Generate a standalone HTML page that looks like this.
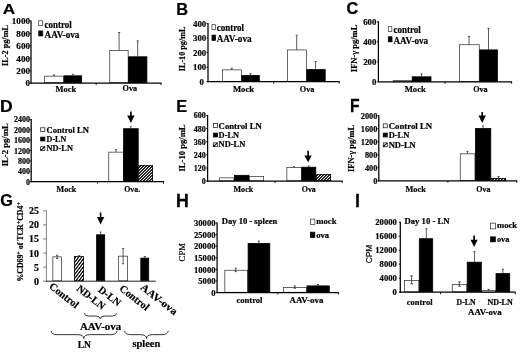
<!DOCTYPE html>
<html>
<head>
<meta charset="utf-8">
<title>Figure</title>
<style>
html,body{margin:0;padding:0;background:#fff;}
body{width:520px;height:352px;overflow:hidden;font-family:"Liberation Serif",serif;}
svg{display:block;}
text{white-space:pre;stroke:#000;stroke-width:0.2px;}
</style>
</head>
<body>
<svg width="520" height="352" viewBox="0 0 520 352">
<rect x="0" y="0" width="520" height="352" fill="#fff"/>
<defs>
<filter id="soft" x="0" y="0" width="520" height="352" filterUnits="userSpaceOnUse"><feGaussianBlur stdDeviation="0.3"/></filter>
<pattern id="h3_0" width="3" height="3" patternUnits="userSpaceOnUse"><rect width="3" height="3" fill="#000"/><rect x="0" y="0" width="1" height="1" fill="#ffffff"/><rect x="1" y="0" width="1" height="1" fill="#1c1c1c"/><rect x="2" y="0" width="1" height="1" fill="#333333"/><rect x="0" y="1" width="1" height="1" fill="#1c1c1c"/><rect x="1" y="1" width="1" height="1" fill="#333333"/><rect x="2" y="1" width="1" height="1" fill="#ffffff"/><rect x="0" y="2" width="1" height="1" fill="#333333"/><rect x="1" y="2" width="1" height="1" fill="#ffffff"/><rect x="2" y="2" width="1" height="1" fill="#1c1c1c"/></pattern>
<pattern id="h3_1" width="3" height="3" patternUnits="userSpaceOnUse"><rect width="3" height="3" fill="#000"/><rect x="0" y="0" width="1" height="1" fill="#333333"/><rect x="1" y="0" width="1" height="1" fill="#ffffff"/><rect x="2" y="0" width="1" height="1" fill="#1c1c1c"/><rect x="0" y="1" width="1" height="1" fill="#ffffff"/><rect x="1" y="1" width="1" height="1" fill="#1c1c1c"/><rect x="2" y="1" width="1" height="1" fill="#333333"/><rect x="0" y="2" width="1" height="1" fill="#1c1c1c"/><rect x="1" y="2" width="1" height="1" fill="#333333"/><rect x="2" y="2" width="1" height="1" fill="#ffffff"/></pattern>
<pattern id="h3_2" width="3" height="3" patternUnits="userSpaceOnUse"><rect width="3" height="3" fill="#000"/><rect x="0" y="0" width="1" height="1" fill="#1c1c1c"/><rect x="1" y="0" width="1" height="1" fill="#333333"/><rect x="2" y="0" width="1" height="1" fill="#ffffff"/><rect x="0" y="1" width="1" height="1" fill="#333333"/><rect x="1" y="1" width="1" height="1" fill="#ffffff"/><rect x="2" y="1" width="1" height="1" fill="#1c1c1c"/><rect x="0" y="2" width="1" height="1" fill="#ffffff"/><rect x="1" y="2" width="1" height="1" fill="#1c1c1c"/><rect x="2" y="2" width="1" height="1" fill="#333333"/></pattern>
<pattern id="h4_0" width="3" height="4" patternUnits="userSpaceOnUse"><rect width="3" height="4" fill="#000"/><rect x="0" y="0" width="1" height="1" fill="#ffffff"/><rect x="1" y="0" width="1" height="1" fill="#0d0d0d"/><rect x="2" y="0" width="1" height="1" fill="#525252"/><rect x="0" y="1" width="1" height="1" fill="#525252"/><rect x="1" y="1" width="1" height="1" fill="#0d0d0d"/><rect x="2" y="1" width="1" height="1" fill="#ffffff"/><rect x="1" y="2" width="1" height="1" fill="#f1f1f1"/><rect x="2" y="2" width="1" height="1" fill="#acacac"/><rect x="0" y="3" width="1" height="1" fill="#acacac"/><rect x="1" y="3" width="1" height="1" fill="#f1f1f1"/></pattern>
<pattern id="h4_1" width="3" height="4" patternUnits="userSpaceOnUse"><rect width="3" height="4" fill="#000"/><rect x="0" y="0" width="1" height="1" fill="#acacac"/><rect x="1" y="0" width="1" height="1" fill="#f1f1f1"/><rect x="0" y="1" width="1" height="1" fill="#ffffff"/><rect x="1" y="1" width="1" height="1" fill="#0d0d0d"/><rect x="2" y="1" width="1" height="1" fill="#525252"/><rect x="0" y="2" width="1" height="1" fill="#525252"/><rect x="1" y="2" width="1" height="1" fill="#0d0d0d"/><rect x="2" y="2" width="1" height="1" fill="#ffffff"/><rect x="1" y="3" width="1" height="1" fill="#f1f1f1"/><rect x="2" y="3" width="1" height="1" fill="#acacac"/></pattern>
<pattern id="h4_2" width="3" height="4" patternUnits="userSpaceOnUse"><rect width="3" height="4" fill="#000"/><rect x="1" y="0" width="1" height="1" fill="#f1f1f1"/><rect x="2" y="0" width="1" height="1" fill="#acacac"/><rect x="0" y="1" width="1" height="1" fill="#acacac"/><rect x="1" y="1" width="1" height="1" fill="#f1f1f1"/><rect x="0" y="2" width="1" height="1" fill="#ffffff"/><rect x="1" y="2" width="1" height="1" fill="#0d0d0d"/><rect x="2" y="2" width="1" height="1" fill="#525252"/><rect x="0" y="3" width="1" height="1" fill="#525252"/><rect x="1" y="3" width="1" height="1" fill="#0d0d0d"/><rect x="2" y="3" width="1" height="1" fill="#ffffff"/></pattern>
<pattern id="h4_3" width="3" height="4" patternUnits="userSpaceOnUse"><rect width="3" height="4" fill="#000"/><rect x="0" y="0" width="1" height="1" fill="#525252"/><rect x="1" y="0" width="1" height="1" fill="#0d0d0d"/><rect x="2" y="0" width="1" height="1" fill="#ffffff"/><rect x="1" y="1" width="1" height="1" fill="#f1f1f1"/><rect x="2" y="1" width="1" height="1" fill="#acacac"/><rect x="0" y="2" width="1" height="1" fill="#acacac"/><rect x="1" y="2" width="1" height="1" fill="#f1f1f1"/><rect x="0" y="3" width="1" height="1" fill="#ffffff"/><rect x="1" y="3" width="1" height="1" fill="#0d0d0d"/><rect x="2" y="3" width="1" height="1" fill="#525252"/></pattern>
</defs>
<g filter="url(#soft)">
<!-- panelA -->
<text transform="translate(2.87 13.6) scale(1.7164 1.3913)" x="0" y="0" font-size="10" font-family='"Liberation Sans", sans-serif' font-weight="bold" fill="#000" style="stroke-width:0.15px">A</text>
<rect x="44.65" y="76.15" width="19" height="6.5" fill="#fff" stroke="#2a2a2a" stroke-width="0.7"/>
<rect x="64.1" y="75.8" width="17.5" height="6.8" fill="#000" stroke="#000" stroke-width="0.8"/>
<rect x="109.75" y="50.55" width="18.4" height="32.1" fill="#fff" stroke="#2a2a2a" stroke-width="0.7"/>
<rect x="128.6" y="56.8" width="18.3" height="25.8" fill="#000" stroke="#000" stroke-width="0.8"/>
<line x1="54" y1="74.9" x2="54" y2="76" stroke="#333" stroke-width="0.8"/>
<line x1="52.9" y1="74.9" x2="55.1" y2="74.9" stroke="#333" stroke-width="0.8"/>
<line x1="73" y1="74.3" x2="73" y2="75.6" stroke="#333" stroke-width="0.8"/>
<line x1="71.9" y1="74.3" x2="74.1" y2="74.3" stroke="#333" stroke-width="0.8"/>
<line x1="119.1" y1="32.5" x2="119.1" y2="50.5" stroke="#333" stroke-width="0.8"/>
<line x1="118" y1="32.5" x2="120.2" y2="32.5" stroke="#333" stroke-width="0.8"/>
<line x1="137.7" y1="40.9" x2="137.7" y2="57" stroke="#333" stroke-width="0.8"/>
<line x1="136.6" y1="40.9" x2="138.8" y2="40.9" stroke="#333" stroke-width="0.8"/>
<line x1="31" y1="20.6" x2="31" y2="83.5" stroke="#000" stroke-width="1.25"/>
<line x1="30.5" y1="83" x2="161.5" y2="83" stroke="#000" stroke-width="1.25"/>
<line x1="29.5" y1="21" x2="31" y2="21" stroke="#000" stroke-width="0.9"/>
<line x1="29.5" y1="33.4" x2="31" y2="33.4" stroke="#000" stroke-width="0.9"/>
<line x1="29.5" y1="45.8" x2="31" y2="45.8" stroke="#000" stroke-width="0.9"/>
<line x1="29.5" y1="58.2" x2="31" y2="58.2" stroke="#000" stroke-width="0.9"/>
<line x1="29.5" y1="70.6" x2="31" y2="70.6" stroke="#000" stroke-width="0.9"/>
<line x1="29.5" y1="83" x2="31" y2="83" stroke="#000" stroke-width="0.9"/>
<line x1="96.2" y1="83" x2="96.2" y2="85" stroke="#000" stroke-width="0.9"/>
<line x1="161" y1="83" x2="161" y2="85" stroke="#000" stroke-width="0.9"/>
<text x="30" y="24.35" font-size="9.1" text-anchor="end" font-family='"Liberation Serif", serif' font-weight="bold" fill="#000">1000</text>
<text x="30" y="36.75" font-size="9.1" text-anchor="end" font-family='"Liberation Serif", serif' font-weight="bold" fill="#000">800</text>
<text x="30" y="49.15" font-size="9.1" text-anchor="end" font-family='"Liberation Serif", serif' font-weight="bold" fill="#000">600</text>
<text x="30" y="61.55" font-size="9.1" text-anchor="end" font-family='"Liberation Serif", serif' font-weight="bold" fill="#000">400</text>
<text x="30" y="73.95" font-size="9.1" text-anchor="end" font-family='"Liberation Serif", serif' font-weight="bold" fill="#000">200</text>
<text x="30" y="86.35" font-size="9.1" text-anchor="end" font-family='"Liberation Serif", serif' font-weight="bold" fill="#000">0</text>
<text x="7.7" y="45.5" font-size="8.2" text-anchor="middle" font-family='"Liberation Serif", serif' font-weight="bold" transform="rotate(-90 7.7 45.5)" textLength="41" lengthAdjust="spacingAndGlyphs">IL-2 pg/mL</text>
<rect x="38.75" y="20.75" width="3.8" height="4.9" fill="#fff" stroke="#2a2a2a" stroke-width="0.7"/>
<rect x="38.75" y="30.95" width="4" height="5" fill="#000" stroke="#000" stroke-width="0.7"/>
<text x="44.6" y="27.5" font-size="9.4" text-anchor="start" font-family='"Liberation Serif", serif' font-weight="bold" fill="#000" textLength="27.1" lengthAdjust="spacingAndGlyphs">control</text>
<text x="44.6" y="38.2" font-size="9.4" text-anchor="start" font-family='"Liberation Serif", serif' font-weight="bold" fill="#000" textLength="34.8" lengthAdjust="spacingAndGlyphs">AAV-ova</text>
<text x="55.5" y="91.7" font-size="9" text-anchor="start" font-family='"Liberation Serif", serif' font-weight="bold" fill="#000" textLength="20.8" lengthAdjust="spacingAndGlyphs">Mock</text>
<text x="122.5" y="91.4" font-size="9" text-anchor="start" font-family='"Liberation Serif", serif' font-weight="bold" fill="#000" textLength="14.6" lengthAdjust="spacingAndGlyphs">Ova</text>
<!-- panelB -->
<text transform="translate(176.33 14.5) scale(1.6393 1.6087)" x="0" y="0" font-size="10" font-family='"Liberation Sans", sans-serif' font-weight="bold" fill="#000" style="stroke-width:0.15px">B</text>
<rect x="222.35" y="69.85" width="19" height="11.48" fill="#fff" stroke="#2a2a2a" stroke-width="0.7"/>
<rect x="241.8" y="75.4" width="17.5" height="5.88" fill="#000" stroke="#000" stroke-width="0.8"/>
<rect x="287.35" y="49.95" width="19" height="31.38" fill="#fff" stroke="#2a2a2a" stroke-width="0.7"/>
<rect x="306.8" y="69.6" width="18.4" height="11.68" fill="#000" stroke="#000" stroke-width="0.8"/>
<line x1="231.7" y1="68.2" x2="231.7" y2="70" stroke="#333" stroke-width="0.8"/>
<line x1="230.6" y1="68.2" x2="232.8" y2="68.2" stroke="#333" stroke-width="0.8"/>
<line x1="250.5" y1="73.7" x2="250.5" y2="75.3" stroke="#333" stroke-width="0.8"/>
<line x1="249.4" y1="73.7" x2="251.6" y2="73.7" stroke="#333" stroke-width="0.8"/>
<line x1="296.7" y1="35.3" x2="296.7" y2="50" stroke="#333" stroke-width="0.8"/>
<line x1="295.6" y1="35.3" x2="297.8" y2="35.3" stroke="#333" stroke-width="0.8"/>
<line x1="315.6" y1="61.4" x2="315.6" y2="69.5" stroke="#333" stroke-width="0.8"/>
<line x1="314.5" y1="61.4" x2="316.7" y2="61.4" stroke="#333" stroke-width="0.8"/>
<line x1="208" y1="23" x2="208" y2="82.18" stroke="#000" stroke-width="1.25"/>
<line x1="207.5" y1="81.68" x2="339.7" y2="81.68" stroke="#000" stroke-width="1.25"/>
<line x1="206.5" y1="23.4" x2="208" y2="23.4" stroke="#000" stroke-width="0.9"/>
<line x1="206.5" y1="37.97" x2="208" y2="37.97" stroke="#000" stroke-width="0.9"/>
<line x1="206.5" y1="52.54" x2="208" y2="52.54" stroke="#000" stroke-width="0.9"/>
<line x1="206.5" y1="67.11" x2="208" y2="67.11" stroke="#000" stroke-width="0.9"/>
<line x1="206.5" y1="81.68" x2="208" y2="81.68" stroke="#000" stroke-width="0.9"/>
<line x1="273.7" y1="81.68" x2="273.7" y2="83.68" stroke="#000" stroke-width="0.9"/>
<line x1="339.2" y1="81.68" x2="339.2" y2="83.68" stroke="#000" stroke-width="0.9"/>
<text x="206.2" y="26.65" font-size="8.8" text-anchor="end" font-family='"Liberation Serif", serif' font-weight="bold" fill="#000">400</text>
<text x="206.2" y="41.22" font-size="8.8" text-anchor="end" font-family='"Liberation Serif", serif' font-weight="bold" fill="#000">300</text>
<text x="206.2" y="55.79" font-size="8.8" text-anchor="end" font-family='"Liberation Serif", serif' font-weight="bold" fill="#000">200</text>
<text x="206.2" y="70.36" font-size="8.8" text-anchor="end" font-family='"Liberation Serif", serif' font-weight="bold" fill="#000">100</text>
<text x="203.8" y="84.93" font-size="8.8" text-anchor="end" font-family='"Liberation Serif", serif' font-weight="bold" fill="#000">0</text>
<text x="184.7" y="48.9" font-size="8.2" text-anchor="middle" font-family='"Liberation Serif", serif' font-weight="bold" transform="rotate(-90 184.7 48.9)" textLength="44.6" lengthAdjust="spacingAndGlyphs">IL-10 pg/mL</text>
<rect x="211.95" y="24.65" width="3.5" height="4.7" fill="#fff" stroke="#2a2a2a" stroke-width="0.7"/>
<rect x="211.95" y="35.05" width="3.6" height="5.4" fill="#000" stroke="#000" stroke-width="0.7"/>
<text x="216.7" y="30.8" font-size="9.4" text-anchor="start" font-family='"Liberation Serif", serif' font-weight="bold" fill="#000" textLength="27.3" lengthAdjust="spacingAndGlyphs">control</text>
<text x="216.7" y="42.2" font-size="9.4" text-anchor="start" font-family='"Liberation Serif", serif' font-weight="bold" fill="#000" textLength="34.9" lengthAdjust="spacingAndGlyphs">AAV-ova</text>
<text x="232.9" y="92" font-size="9" text-anchor="start" font-family='"Liberation Serif", serif' font-weight="bold" fill="#000" textLength="21.2" lengthAdjust="spacingAndGlyphs">Mock</text>
<text x="299.8" y="91.8" font-size="9" text-anchor="start" font-family='"Liberation Serif", serif' font-weight="bold" fill="#000" textLength="14.6" lengthAdjust="spacingAndGlyphs">Ova</text>
<!-- panelC -->
<text transform="translate(346.55 14.14) scale(1.6336 1.6479)" x="0" y="0" font-size="10" font-family='"Liberation Sans", sans-serif' font-weight="bold" fill="#000" style="stroke-width:0.15px">C</text>
<rect x="393.15" y="80.65" width="18.5" height="1.2" fill="#fff" stroke="#2a2a2a" stroke-width="0.7"/>
<rect x="412.2" y="76.8" width="18.8" height="4.6" fill="#000" stroke="#000" stroke-width="0.8"/>
<rect x="459.55" y="44.75" width="19.7" height="36.7" fill="#fff" stroke="#2a2a2a" stroke-width="0.7"/>
<rect x="479.7" y="49.9" width="17.7" height="31.5" fill="#000" stroke="#000" stroke-width="0.8"/>
<line x1="421.5" y1="74" x2="421.5" y2="77" stroke="#333" stroke-width="0.8"/>
<line x1="420.4" y1="74" x2="422.6" y2="74" stroke="#333" stroke-width="0.8"/>
<line x1="469" y1="36.3" x2="469" y2="45" stroke="#333" stroke-width="0.8"/>
<line x1="467.9" y1="36.3" x2="470.1" y2="36.3" stroke="#333" stroke-width="0.8"/>
<line x1="488.5" y1="28.4" x2="488.5" y2="50" stroke="#333" stroke-width="0.8"/>
<line x1="487.4" y1="28.4" x2="489.6" y2="28.4" stroke="#333" stroke-width="0.8"/>
<line x1="378.4" y1="21.4" x2="378.4" y2="82.3" stroke="#000" stroke-width="1.25"/>
<line x1="377.9" y1="81.8" x2="512.1" y2="81.8" stroke="#000" stroke-width="1.25"/>
<line x1="376.9" y1="21.8" x2="378.4" y2="21.8" stroke="#000" stroke-width="0.9"/>
<line x1="376.9" y1="41.8" x2="378.4" y2="41.8" stroke="#000" stroke-width="0.9"/>
<line x1="376.9" y1="61.8" x2="378.4" y2="61.8" stroke="#000" stroke-width="0.9"/>
<line x1="376.9" y1="81.8" x2="378.4" y2="81.8" stroke="#000" stroke-width="0.9"/>
<line x1="445.1" y1="81.8" x2="445.1" y2="83.8" stroke="#000" stroke-width="0.9"/>
<line x1="511.6" y1="81.8" x2="511.6" y2="83.8" stroke="#000" stroke-width="0.9"/>
<text x="376.4" y="25.05" font-size="8.8" text-anchor="end" font-family='"Liberation Serif", serif' font-weight="bold" fill="#000">600</text>
<text x="376.4" y="45.05" font-size="8.8" text-anchor="end" font-family='"Liberation Serif", serif' font-weight="bold" fill="#000">400</text>
<text x="376.4" y="65.05" font-size="8.8" text-anchor="end" font-family='"Liberation Serif", serif' font-weight="bold" fill="#000">200</text>
<text x="376.4" y="85.05" font-size="8.8" text-anchor="end" font-family='"Liberation Serif", serif' font-weight="bold" fill="#000">0</text>
<text x="357.2" y="48.4" font-size="8.2" text-anchor="middle" font-family='"Liberation Serif", serif' font-weight="bold" transform="rotate(-90 357.2 48.4)" textLength="47.5" lengthAdjust="spacingAndGlyphs">IFN-&#947; pg/mL</text>
<rect x="388.25" y="26.65" width="3.6" height="4.8" fill="#fff" stroke="#2a2a2a" stroke-width="0.7"/>
<rect x="388.25" y="36.75" width="3.8" height="5.1" fill="#000" stroke="#000" stroke-width="0.7"/>
<text x="393.5" y="32.9" font-size="9.4" text-anchor="start" font-family='"Liberation Serif", serif' font-weight="bold" fill="#000" textLength="27.3" lengthAdjust="spacingAndGlyphs">control</text>
<text x="393.5" y="44.3" font-size="9.4" text-anchor="start" font-family='"Liberation Serif", serif' font-weight="bold" fill="#000" textLength="34.7" lengthAdjust="spacingAndGlyphs">AAV-ova</text>
<text x="404.7" y="92.3" font-size="9" text-anchor="start" font-family='"Liberation Serif", serif' font-weight="bold" fill="#000" textLength="21.1" lengthAdjust="spacingAndGlyphs">Mock</text>
<text x="473.2" y="92.2" font-size="9" text-anchor="start" font-family='"Liberation Serif", serif' font-weight="bold" fill="#000" textLength="14.5" lengthAdjust="spacingAndGlyphs">Ova</text>
<!-- panelD -->
<text transform="translate(0.06 111.6) scale(1.7561 1.6232)" x="0" y="0" font-size="10" font-family='"Liberation Sans", sans-serif' font-weight="bold" fill="#000" style="stroke-width:0.15px">D</text>
<rect x="108.75" y="152.15" width="14.6" height="29.18" fill="#fff" stroke="#2a2a2a" stroke-width="0.7"/>
<rect x="123.6" y="128.7" width="14.6" height="52.58" fill="#000" stroke="#000" stroke-width="0.8"/>
<rect x="138" y="165" width="15" height="17" fill="url(#h3_1)"/>
<rect x="138.7" y="165.8" width="13.7" height="15.48" fill="none" stroke="#000" stroke-width="0.8"/>
<line x1="116" y1="149.7" x2="116" y2="152" stroke="#333" stroke-width="0.8"/>
<line x1="114.9" y1="149.7" x2="117.1" y2="149.7" stroke="#333" stroke-width="0.8"/>
<line x1="130.9" y1="126.3" x2="130.9" y2="129" stroke="#333" stroke-width="0.8"/>
<line x1="130.1" y1="126.3" x2="131.7" y2="126.3" stroke="#333" stroke-width="0.8"/>
<line x1="31.2" y1="119" x2="31.2" y2="182.18" stroke="#000" stroke-width="1.25"/>
<line x1="30.7" y1="181.68" x2="164" y2="181.68" stroke="#000" stroke-width="1.25"/>
<line x1="29.7" y1="119.4" x2="31.2" y2="119.4" stroke="#000" stroke-width="0.9"/>
<line x1="29.7" y1="129.78" x2="31.2" y2="129.78" stroke="#000" stroke-width="0.9"/>
<line x1="29.7" y1="140.16" x2="31.2" y2="140.16" stroke="#000" stroke-width="0.9"/>
<line x1="29.7" y1="150.54" x2="31.2" y2="150.54" stroke="#000" stroke-width="0.9"/>
<line x1="29.7" y1="160.92" x2="31.2" y2="160.92" stroke="#000" stroke-width="0.9"/>
<line x1="29.7" y1="171.3" x2="31.2" y2="171.3" stroke="#000" stroke-width="0.9"/>
<line x1="29.7" y1="181.68" x2="31.2" y2="181.68" stroke="#000" stroke-width="0.9"/>
<line x1="97.5" y1="181.68" x2="97.5" y2="183.68" stroke="#000" stroke-width="0.9"/>
<line x1="163.5" y1="181.68" x2="163.5" y2="183.68" stroke="#000" stroke-width="0.9"/>
<text x="29.9" y="122.38" font-size="8" text-anchor="end" font-family='"Liberation Serif", serif' font-weight="bold" fill="#000">2400</text>
<text x="29.9" y="132.76" font-size="8" text-anchor="end" font-family='"Liberation Serif", serif' font-weight="bold" fill="#000">2000</text>
<text x="29.9" y="143.14" font-size="8" text-anchor="end" font-family='"Liberation Serif", serif' font-weight="bold" fill="#000">1600</text>
<text x="29.9" y="153.52" font-size="8" text-anchor="end" font-family='"Liberation Serif", serif' font-weight="bold" fill="#000">1200</text>
<text x="29.9" y="163.9" font-size="8" text-anchor="end" font-family='"Liberation Serif", serif' font-weight="bold" fill="#000">800</text>
<text x="29.9" y="174.28" font-size="8" text-anchor="end" font-family='"Liberation Serif", serif' font-weight="bold" fill="#000">400</text>
<text x="29.9" y="184.66" font-size="8" text-anchor="end" font-family='"Liberation Serif", serif' font-weight="bold" fill="#000">0</text>
<text x="8.2" y="144.8" font-size="8.2" text-anchor="middle" font-family='"Liberation Serif", serif' font-weight="bold" transform="rotate(-90 8.2 144.8)" textLength="43" lengthAdjust="spacingAndGlyphs">IL-2 pg/mL</text>
<rect x="40.65" y="127.75" width="4.2" height="3.8" fill="#fff" stroke="#2a2a2a" stroke-width="0.8"/>
<text x="46.6" y="132.5" font-size="8.7" text-anchor="start" font-family='"Liberation Serif", serif' font-weight="bold" fill="#000" textLength="42.4" lengthAdjust="spacingAndGlyphs">Control LN</text>
<rect x="40.65" y="137.15" width="4.2" height="3.8" fill="#000" stroke="#000" stroke-width="0.8"/>
<text x="46.6" y="141.7" font-size="8.7" text-anchor="start" font-family='"Liberation Serif", serif' font-weight="bold" fill="#000" textLength="19.6" lengthAdjust="spacingAndGlyphs">D-LN</text>
<rect x="40.65" y="146.65" width="4.2" height="3.8" fill="#fff" stroke="#2a2a2a" stroke-width="0.8"/>
<path d="M40.65 150.45 L40.65 148.85 L42.25 150.45 Z" fill="#000"/>
<line x1="40.75" y1="150.35" x2="44.75" y2="146.75" stroke="#000" stroke-width="1.1"/>
<text x="46.6" y="150.9" font-size="8.7" text-anchor="start" font-family='"Liberation Serif", serif' font-weight="bold" fill="#000" textLength="26.3" lengthAdjust="spacingAndGlyphs">ND-LN</text>
<line x1="130.9" y1="111.5" x2="130.9" y2="116.6" stroke="#000" stroke-width="1.6"/>
<path d="M130.9 123.1 L127.2 115.6 L134.6 115.6 Z" fill="#000"/>
<text x="56.5" y="191.7" font-size="8.6" text-anchor="start" font-family='"Liberation Serif", serif' font-weight="bold" fill="#000" textLength="19.8" lengthAdjust="spacingAndGlyphs">Mock</text>
<text x="124.2" y="191.7" font-size="8.6" text-anchor="start" font-family='"Liberation Serif", serif' font-weight="bold" fill="#000" textLength="16" lengthAdjust="spacingAndGlyphs">Ova.</text>
<!-- panelE -->
<text transform="translate(176.34 111.8) scale(1.6283 1.6522)" x="0" y="0" font-size="10" font-family='"Liberation Sans", sans-serif' font-weight="bold" fill="#000" style="stroke-width:0.15px">E</text>
<rect x="219.65" y="177.85" width="14.3" height="2.95" fill="#fff" stroke="#2a2a2a" stroke-width="0.7"/>
<rect x="234.4" y="175.3" width="14.6" height="5.45" fill="#000" stroke="#000" stroke-width="0.8"/>
<rect x="249.45" y="176.45" width="14.2" height="4.35" fill="#fff" stroke="#2a2a2a" stroke-width="0.7"/>
<rect x="286.85" y="167.65" width="14.5" height="13.15" fill="#fff" stroke="#2a2a2a" stroke-width="0.7"/>
<rect x="301.8" y="167.2" width="14" height="13.55" fill="#000" stroke="#000" stroke-width="0.8"/>
<rect x="316" y="174" width="15" height="7" fill="url(#h3_1)"/>
<rect x="316.3" y="174.7" width="14.4" height="6.05" fill="none" stroke="#000" stroke-width="0.8"/>
<line x1="294" y1="166.6" x2="294" y2="167.5" stroke="#333" stroke-width="0.8"/>
<line x1="293.2" y1="166.6" x2="294.8" y2="166.6" stroke="#333" stroke-width="0.8"/>
<line x1="308.7" y1="165.9" x2="308.7" y2="167" stroke="#333" stroke-width="0.8"/>
<line x1="307.9" y1="165.9" x2="309.5" y2="165.9" stroke="#333" stroke-width="0.8"/>
<line x1="207.6" y1="115" x2="207.6" y2="181.65" stroke="#000" stroke-width="1.25"/>
<line x1="207.1" y1="181.15" x2="342.7" y2="181.15" stroke="#000" stroke-width="1.25"/>
<line x1="206.1" y1="115.4" x2="207.6" y2="115.4" stroke="#000" stroke-width="0.9"/>
<line x1="206.1" y1="128.55" x2="207.6" y2="128.55" stroke="#000" stroke-width="0.9"/>
<line x1="206.1" y1="141.7" x2="207.6" y2="141.7" stroke="#000" stroke-width="0.9"/>
<line x1="206.1" y1="154.85" x2="207.6" y2="154.85" stroke="#000" stroke-width="0.9"/>
<line x1="206.1" y1="168" x2="207.6" y2="168" stroke="#000" stroke-width="0.9"/>
<line x1="206.1" y1="181.15" x2="207.6" y2="181.15" stroke="#000" stroke-width="0.9"/>
<line x1="275" y1="181.15" x2="275" y2="183.15" stroke="#000" stroke-width="0.9"/>
<line x1="342.2" y1="181.15" x2="342.2" y2="183.15" stroke="#000" stroke-width="0.9"/>
<text x="205.7" y="118.38" font-size="8" text-anchor="end" font-family='"Liberation Serif", serif' font-weight="bold" fill="#000">600</text>
<text x="205.7" y="131.53" font-size="8" text-anchor="end" font-family='"Liberation Serif", serif' font-weight="bold" fill="#000">480</text>
<text x="205.7" y="144.68" font-size="8" text-anchor="end" font-family='"Liberation Serif", serif' font-weight="bold" fill="#000">360</text>
<text x="205.7" y="157.83" font-size="8" text-anchor="end" font-family='"Liberation Serif", serif' font-weight="bold" fill="#000">240</text>
<text x="205.7" y="170.98" font-size="8" text-anchor="end" font-family='"Liberation Serif", serif' font-weight="bold" fill="#000">120</text>
<text x="205.7" y="184.13" font-size="8" text-anchor="end" font-family='"Liberation Serif", serif' font-weight="bold" fill="#000">0</text>
<text x="185.1" y="148" font-size="8.2" text-anchor="middle" font-family='"Liberation Serif", serif' font-weight="bold" transform="rotate(-90 185.1 148)" textLength="47.2" lengthAdjust="spacingAndGlyphs">IL-10 pg/mL</text>
<rect x="213.35" y="123.55" width="4.1" height="3.9" fill="#fff" stroke="#2a2a2a" stroke-width="0.8"/>
<text x="218.6" y="129.1" font-size="8.7" text-anchor="start" font-family='"Liberation Serif", serif' font-weight="bold" fill="#000" textLength="43.2" lengthAdjust="spacingAndGlyphs">Control LN</text>
<rect x="213.35" y="133.15" width="4.1" height="3.8" fill="#000" stroke="#000" stroke-width="0.8"/>
<text x="218.6" y="138.3" font-size="8.7" text-anchor="start" font-family='"Liberation Serif", serif' font-weight="bold" fill="#000" textLength="20.5" lengthAdjust="spacingAndGlyphs">D-LN</text>
<rect x="213.35" y="142.85" width="4.1" height="3.8" fill="#fff" stroke="#2a2a2a" stroke-width="0.8"/>
<path d="M213.35 146.65 L213.35 145.05 L214.95 146.65 Z" fill="#000"/>
<line x1="213.45" y1="146.55" x2="217.35" y2="142.95" stroke="#000" stroke-width="1.1"/>
<text x="218.6" y="147.3" font-size="8.7" text-anchor="start" font-family='"Liberation Serif", serif' font-weight="bold" fill="#000" textLength="26.7" lengthAdjust="spacingAndGlyphs">ND-LN</text>
<line x1="308.1" y1="150.7" x2="308.1" y2="156.5" stroke="#000" stroke-width="1.6"/>
<path d="M308.1 162.3 L304.4 155.5 L311.8 155.5 Z" fill="#000"/>
<text x="233.5" y="191.7" font-size="8.6" text-anchor="start" font-family='"Liberation Serif", serif' font-weight="bold" fill="#000" textLength="19.7" lengthAdjust="spacingAndGlyphs">Mock</text>
<text x="301.8" y="191.9" font-size="8.6" text-anchor="start" font-family='"Liberation Serif", serif' font-weight="bold" fill="#000" textLength="14" lengthAdjust="spacingAndGlyphs">Ova</text>
<!-- panelF -->
<text transform="translate(349.88 111.69) scale(1.5686 1.7664)" x="0" y="0" font-size="10" font-family='"Liberation Sans", sans-serif' font-weight="bold" fill="#000" style="stroke-width:0.15px">F</text>
<rect x="460.25" y="153.85" width="14.7" height="26.65" fill="#fff" stroke="#2a2a2a" stroke-width="0.7"/>
<rect x="475.4" y="128.4" width="15.4" height="52.05" fill="#000" stroke="#000" stroke-width="0.8"/>
<rect x="491" y="178" width="15" height="3" fill="url(#h3_1)"/>
<rect x="491.3" y="178.4" width="14.4" height="2.35" fill="none" stroke="#000" stroke-width="0.8"/>
<line x1="467.5" y1="151.4" x2="467.5" y2="153.8" stroke="#333" stroke-width="0.8"/>
<line x1="466.4" y1="151.4" x2="468.6" y2="151.4" stroke="#333" stroke-width="0.8"/>
<line x1="483" y1="126" x2="483" y2="128.5" stroke="#333" stroke-width="0.8"/>
<line x1="482.2" y1="126" x2="483.8" y2="126" stroke="#333" stroke-width="0.8"/>
<line x1="498.5" y1="176.5" x2="498.5" y2="178.3" stroke="#333" stroke-width="0.8"/>
<line x1="497.4" y1="176.5" x2="499.6" y2="176.5" stroke="#333" stroke-width="0.8"/>
<line x1="378.8" y1="115.2" x2="378.8" y2="181.35" stroke="#000" stroke-width="1.25"/>
<line x1="378.3" y1="180.85" x2="517.3" y2="180.85" stroke="#000" stroke-width="1.25"/>
<line x1="377.3" y1="115.6" x2="378.8" y2="115.6" stroke="#000" stroke-width="0.9"/>
<line x1="377.3" y1="128.65" x2="378.8" y2="128.65" stroke="#000" stroke-width="0.9"/>
<line x1="377.3" y1="141.7" x2="378.8" y2="141.7" stroke="#000" stroke-width="0.9"/>
<line x1="377.3" y1="154.75" x2="378.8" y2="154.75" stroke="#000" stroke-width="0.9"/>
<line x1="377.3" y1="167.8" x2="378.8" y2="167.8" stroke="#000" stroke-width="0.9"/>
<line x1="377.3" y1="180.85" x2="378.8" y2="180.85" stroke="#000" stroke-width="0.9"/>
<line x1="447.9" y1="180.85" x2="447.9" y2="182.85" stroke="#000" stroke-width="0.9"/>
<line x1="516.8" y1="180.85" x2="516.8" y2="182.85" stroke="#000" stroke-width="0.9"/>
<text x="377.4" y="118.68" font-size="8.3" text-anchor="end" font-family='"Liberation Serif", serif' font-weight="bold" fill="#000">2000</text>
<text x="377.4" y="131.73" font-size="8.3" text-anchor="end" font-family='"Liberation Serif", serif' font-weight="bold" fill="#000">1600</text>
<text x="377.4" y="144.78" font-size="8.3" text-anchor="end" font-family='"Liberation Serif", serif' font-weight="bold" fill="#000">1200</text>
<text x="377.4" y="157.83" font-size="8.3" text-anchor="end" font-family='"Liberation Serif", serif' font-weight="bold" fill="#000">800</text>
<text x="377.4" y="170.88" font-size="8.3" text-anchor="end" font-family='"Liberation Serif", serif' font-weight="bold" fill="#000">400</text>
<text x="377.4" y="183.93" font-size="8.3" text-anchor="end" font-family='"Liberation Serif", serif' font-weight="bold" fill="#000">0</text>
<text x="354.2" y="148.4" font-size="8.2" text-anchor="middle" font-family='"Liberation Serif", serif' font-weight="bold" transform="rotate(-90 354.2 148.4)" textLength="47" lengthAdjust="spacingAndGlyphs">IFN-&#947; pg/mL</text>
<rect x="383.25" y="123.85" width="4" height="3.9" fill="#fff" stroke="#2a2a2a" stroke-width="0.8"/>
<text x="388.7" y="129.2" font-size="8.7" text-anchor="start" font-family='"Liberation Serif", serif' font-weight="bold" fill="#000" textLength="43.5" lengthAdjust="spacingAndGlyphs">Control LN</text>
<rect x="383.25" y="133.15" width="4" height="3.8" fill="#000" stroke="#000" stroke-width="0.8"/>
<text x="388.7" y="138.4" font-size="8.7" text-anchor="start" font-family='"Liberation Serif", serif' font-weight="bold" fill="#000" textLength="20.6" lengthAdjust="spacingAndGlyphs">D-LN</text>
<rect x="383.25" y="142.85" width="4" height="3.9" fill="#fff" stroke="#2a2a2a" stroke-width="0.8"/>
<path d="M383.25 146.75 L383.25 145.15 L384.85 146.75 Z" fill="#000"/>
<line x1="383.35" y1="146.65" x2="387.15" y2="142.95" stroke="#000" stroke-width="1.1"/>
<text x="388.7" y="147.7" font-size="8.7" text-anchor="start" font-family='"Liberation Serif", serif' font-weight="bold" fill="#000" textLength="27.1" lengthAdjust="spacingAndGlyphs">ND-LN</text>
<line x1="482.2" y1="111.9" x2="482.2" y2="116.6" stroke="#000" stroke-width="1.6"/>
<path d="M482.2 123.1 L478.5 115.6 L485.9 115.6 Z" fill="#000"/>
<text x="405.5" y="191.7" font-size="8.6" text-anchor="start" font-family='"Liberation Serif", serif' font-weight="bold" fill="#000" textLength="20.3" lengthAdjust="spacingAndGlyphs">Mock</text>
<text x="476.2" y="192" font-size="8.6" text-anchor="start" font-family='"Liberation Serif", serif' font-weight="bold" fill="#000" textLength="14.2" lengthAdjust="spacingAndGlyphs">Ova</text>
<!-- panelG -->
<text transform="translate(0.35 205.84) scale(1.6296 1.6197)" x="0" y="0" font-size="10" font-family='"Liberation Sans", sans-serif' font-weight="bold" fill="#000" style="stroke-width:0.15px">G</text>
<rect x="52.85" y="256.85" width="8.7" height="24" fill="#fff" stroke="#2a2a2a" stroke-width="0.7"/>
<rect x="74" y="256" width="10" height="25" fill="url(#h4_3)"/>
<rect x="74.55" y="256.55" width="8.9" height="24.3" fill="none" stroke="#000" stroke-width="0.7"/>
<rect x="96.6" y="234.8" width="8.1" height="46" fill="#000" stroke="#000" stroke-width="0.8"/>
<rect x="118.65" y="256.15" width="9" height="24.7" fill="#fff" stroke="#2a2a2a" stroke-width="0.7"/>
<rect x="140.8" y="258.1" width="7.9" height="22.7" fill="#000" stroke="#000" stroke-width="0.8"/>
<line x1="57.1" y1="255.2" x2="57.1" y2="258.4" stroke="#333" stroke-width="0.8"/>
<line x1="56" y1="255.2" x2="58.2" y2="255.2" stroke="#333" stroke-width="0.8"/>
<line x1="56" y1="258.4" x2="58.2" y2="258.4" stroke="#333" stroke-width="0.8"/>
<line x1="79.2" y1="255.6" x2="79.2" y2="256.6" stroke="#333" stroke-width="0.8"/>
<line x1="78.1" y1="255.6" x2="80.3" y2="255.6" stroke="#333" stroke-width="0.8"/>
<line x1="100.6" y1="232" x2="100.6" y2="235" stroke="#333" stroke-width="0.8"/>
<line x1="99.8" y1="232" x2="101.4" y2="232" stroke="#333" stroke-width="0.8"/>
<line x1="123.1" y1="248.5" x2="123.1" y2="263.7" stroke="#333" stroke-width="0.8"/>
<line x1="122" y1="248.5" x2="124.2" y2="248.5" stroke="#333" stroke-width="0.8"/>
<line x1="122" y1="263.7" x2="124.2" y2="263.7" stroke="#333" stroke-width="0.8"/>
<line x1="144.8" y1="256.5" x2="144.8" y2="258" stroke="#333" stroke-width="0.8"/>
<line x1="143.7" y1="256.5" x2="145.9" y2="256.5" stroke="#333" stroke-width="0.8"/>
<line x1="46.4" y1="210.4" x2="46.4" y2="281.7" stroke="#666" stroke-width="0.8"/>
<line x1="43" y1="210.8" x2="46.4" y2="210.8" stroke="#666" stroke-width="0.8"/>
<line x1="43" y1="224.88" x2="46.4" y2="224.88" stroke="#666" stroke-width="0.8"/>
<line x1="43" y1="238.96" x2="46.4" y2="238.96" stroke="#666" stroke-width="0.8"/>
<line x1="43" y1="253.04" x2="46.4" y2="253.04" stroke="#666" stroke-width="0.8"/>
<line x1="43" y1="267.12" x2="46.4" y2="267.12" stroke="#666" stroke-width="0.8"/>
<line x1="43" y1="281.2" x2="46.4" y2="281.2" stroke="#666" stroke-width="0.8"/>
<line x1="45.9" y1="281.2" x2="155.8" y2="281.2" stroke="#222" stroke-width="1"/>
<text x="29.1" y="214.32" font-size="9.6" text-anchor="start" font-family='"Liberation Serif", serif' font-weight="bold" fill="#000" textLength="9.8" lengthAdjust="spacingAndGlyphs">25</text>
<text x="29.1" y="228.4" font-size="9.6" text-anchor="start" font-family='"Liberation Serif", serif' font-weight="bold" fill="#000" textLength="9.8" lengthAdjust="spacingAndGlyphs">20</text>
<text x="29.1" y="242.48" font-size="9.6" text-anchor="start" font-family='"Liberation Serif", serif' font-weight="bold" fill="#000" textLength="9.8" lengthAdjust="spacingAndGlyphs">15</text>
<text x="29.1" y="256.56" font-size="9.6" text-anchor="start" font-family='"Liberation Serif", serif' font-weight="bold" fill="#000" textLength="9.8" lengthAdjust="spacingAndGlyphs">10</text>
<text x="34" y="270.64" font-size="9.6" text-anchor="start" font-family='"Liberation Serif", serif' font-weight="bold" fill="#000" textLength="4.9" lengthAdjust="spacingAndGlyphs">5</text>
<text x="34" y="284.72" font-size="9.6" text-anchor="start" font-family='"Liberation Serif", serif' font-weight="bold" fill="#000" textLength="4.9" lengthAdjust="spacingAndGlyphs">0</text>
<text x="23.2" y="241.8" font-size="7.6" text-anchor="middle" font-family='"Liberation Serif", serif' font-weight="bold" transform="rotate(-90 23.2 241.8)" textLength="79.5" lengthAdjust="spacingAndGlyphs">%CD69<tspan font-size="6" dy="-2.6">+</tspan><tspan dy="2.6"> of TCR</tspan><tspan font-size="6" dy="-2.6">+</tspan><tspan dy="2.6">CD4</tspan><tspan font-size="6" dy="-2.6">+</tspan></text>
<line x1="100.6" y1="212.5" x2="100.6" y2="218.1" stroke="#000" stroke-width="1.6"/>
<path d="M100.6 224.5 L96.9 217.1 L104.3 217.1 Z" fill="#000"/>
<text x="48.5" y="287.6" font-size="10.4" text-anchor="start" font-family='"Liberation Serif", serif' font-weight="bold" fill="#000" transform="rotate(38 48.5 287.6)">Control</text>
<text x="76" y="289.8" font-size="10.4" text-anchor="start" font-family='"Liberation Serif", serif' font-weight="bold" fill="#000" transform="rotate(38 76 289.8)">ND-LN</text>
<text x="97.6" y="291" font-size="10.4" text-anchor="start" font-family='"Liberation Serif", serif' font-weight="bold" fill="#000" transform="rotate(38 97.6 291)">D-LN</text>
<text x="118.8" y="289.8" font-size="10.4" text-anchor="start" font-family='"Liberation Serif", serif' font-weight="bold" fill="#000" transform="rotate(38 118.8 289.8)">Control</text>
<text x="139.8" y="288.6" font-size="10.4" text-anchor="start" font-family='"Liberation Serif", serif' font-weight="bold" fill="#000" transform="rotate(38 139.8 288.6)" textLength="43.6" lengthAdjust="spacingAndGlyphs">AAV-ova</text>
<path d="M84.4 313.3 Q84.7 316.05 88.8 316.05 L95.8 316.05 Q100 316.05 100.2 318.8 Q100.4 316.05 104.6 316.05 L112.2 316.05 Q116.3 316.05 116.6 313.3" fill="none" stroke="#000" stroke-width="0.8"/>
<text x="79.9" y="329.7" font-size="9.6" text-anchor="start" font-family='"Liberation Serif", serif' font-weight="bold" fill="#000" textLength="41.3" lengthAdjust="spacingAndGlyphs">AAV-ova</text>
<path d="M51 330.8 Q51.3 334.65 57.16 334.65 L77.64 334.65 Q83.6 334.65 83.8 338.5 Q84 334.65 89.96 334.65 L110.94 334.65 Q116.8 334.65 117.1 330.8" fill="none" stroke="#000" stroke-width="0.8"/>
<text x="77.7" y="348.4" font-size="9.6" text-anchor="start" font-family='"Liberation Serif", serif' font-weight="bold" fill="#000" textLength="13.3" lengthAdjust="spacingAndGlyphs">LN</text>
<path d="M124.6 330.8 Q124.9 334.65 130.76 334.65 L140.34 334.65 Q146.3 334.65 146.5 338.5 Q146.7 334.65 152.66 334.65 L162.04 334.65 Q167.9 334.65 168.2 330.8" fill="none" stroke="#000" stroke-width="0.8"/>
<text x="132.5" y="347.3" font-size="9.6" text-anchor="start" font-family='"Liberation Serif", serif' font-weight="bold" fill="#000" textLength="27.7" lengthAdjust="spacingAndGlyphs">spleen</text>
<!-- panelH -->
<text transform="translate(176.04 206.6) scale(1.7797 1.7536)" x="0" y="0" font-size="10" font-family='"Liberation Sans", sans-serif' font-weight="bold" fill="#000" style="stroke-width:0.15px">H</text>
<rect x="224.85" y="270.25" width="22.8" height="22" fill="#fff" stroke="#2a2a2a" stroke-width="0.7"/>
<rect x="248.1" y="243.4" width="21.7" height="48.8" fill="#000" stroke="#000" stroke-width="0.8"/>
<rect x="283.55" y="287.55" width="23" height="4.7" fill="#fff" stroke="#2a2a2a" stroke-width="0.7"/>
<rect x="307" y="285.9" width="22.3" height="6.3" fill="#000" stroke="#000" stroke-width="0.8"/>
<line x1="235.7" y1="268.2" x2="235.7" y2="271.6" stroke="#333" stroke-width="0.8"/>
<line x1="234.6" y1="268.2" x2="236.8" y2="268.2" stroke="#333" stroke-width="0.8"/>
<line x1="234.6" y1="271.6" x2="236.8" y2="271.6" stroke="#333" stroke-width="0.8"/>
<line x1="258.8" y1="241" x2="258.8" y2="243.5" stroke="#333" stroke-width="0.8"/>
<line x1="257.7" y1="241" x2="259.9" y2="241" stroke="#333" stroke-width="0.8"/>
<line x1="294.8" y1="286" x2="294.8" y2="288.3" stroke="#333" stroke-width="0.8"/>
<line x1="293.7" y1="286" x2="295.9" y2="286" stroke="#333" stroke-width="0.8"/>
<line x1="293.7" y1="288.3" x2="295.9" y2="288.3" stroke="#333" stroke-width="0.8"/>
<line x1="318" y1="284.5" x2="318" y2="286" stroke="#333" stroke-width="0.8"/>
<line x1="316.9" y1="284.5" x2="319.1" y2="284.5" stroke="#333" stroke-width="0.8"/>
<line x1="217.1" y1="222.6" x2="217.1" y2="293.1" stroke="#000" stroke-width="1.25"/>
<line x1="216.6" y1="292.6" x2="338.9" y2="292.6" stroke="#000" stroke-width="1.25"/>
<line x1="215.6" y1="223" x2="217.1" y2="223" stroke="#000" stroke-width="0.9"/>
<line x1="215.6" y1="234.6" x2="217.1" y2="234.6" stroke="#000" stroke-width="0.9"/>
<line x1="215.6" y1="246.2" x2="217.1" y2="246.2" stroke="#000" stroke-width="0.9"/>
<line x1="215.6" y1="257.8" x2="217.1" y2="257.8" stroke="#000" stroke-width="0.9"/>
<line x1="215.6" y1="269.4" x2="217.1" y2="269.4" stroke="#000" stroke-width="0.9"/>
<line x1="215.6" y1="281" x2="217.1" y2="281" stroke="#000" stroke-width="0.9"/>
<line x1="215.6" y1="292.6" x2="217.1" y2="292.6" stroke="#000" stroke-width="0.9"/>
<line x1="277.9" y1="292.6" x2="277.9" y2="294.6" stroke="#000" stroke-width="0.9"/>
<line x1="338.4" y1="292.6" x2="338.4" y2="294.6" stroke="#000" stroke-width="0.9"/>
<text x="215.5" y="226.18" font-size="8.6" text-anchor="end" font-family='"Liberation Serif", serif' font-weight="bold" fill="#000">30000</text>
<text x="215.5" y="237.78" font-size="8.6" text-anchor="end" font-family='"Liberation Serif", serif' font-weight="bold" fill="#000">25000</text>
<text x="215.5" y="249.38" font-size="8.6" text-anchor="end" font-family='"Liberation Serif", serif' font-weight="bold" fill="#000">20000</text>
<text x="215.5" y="260.98" font-size="8.6" text-anchor="end" font-family='"Liberation Serif", serif' font-weight="bold" fill="#000">15000</text>
<text x="215.5" y="272.58" font-size="8.6" text-anchor="end" font-family='"Liberation Serif", serif' font-weight="bold" fill="#000">10000</text>
<text x="215.5" y="284.18" font-size="8.6" text-anchor="end" font-family='"Liberation Serif", serif' font-weight="bold" fill="#000">5000</text>
<text x="215.5" y="295.78" font-size="8.6" text-anchor="end" font-family='"Liberation Serif", serif' font-weight="bold" fill="#000">0</text>
<text x="185.3" y="252.2" font-size="8.4" text-anchor="middle" font-family='"Liberation Serif", serif' font-weight="normal" transform="rotate(-90 185.3 252.2)" textLength="18.4" lengthAdjust="spacingAndGlyphs">CPM</text>
<text x="221.7" y="223.9" font-size="8" text-anchor="start" font-family='"Liberation Serif", serif' font-weight="bold" fill="#000" textLength="55.6" lengthAdjust="spacingAndGlyphs">Day 10 - spleen</text>
<rect x="310.35" y="219.15" width="4.5" height="5.4" fill="#fff" stroke="#2a2a2a" stroke-width="0.7"/>
<rect x="310.35" y="232.15" width="4.5" height="5.4" fill="#000" stroke="#000" stroke-width="0.7"/>
<text x="316.2" y="224.4" font-size="8.6" text-anchor="start" font-family='"Liberation Serif", serif' font-weight="bold" fill="#000" textLength="20.3" lengthAdjust="spacingAndGlyphs">mock</text>
<text x="316.2" y="237.5" font-size="8.6" text-anchor="start" font-family='"Liberation Serif", serif' font-weight="bold" fill="#000" textLength="13" lengthAdjust="spacingAndGlyphs">ova</text>
<text x="236.4" y="303.3" font-size="8.6" text-anchor="start" font-family='"Liberation Serif", serif' font-weight="bold" fill="#000" textLength="26.1" lengthAdjust="spacingAndGlyphs">control</text>
<text x="289.4" y="303.3" font-size="8.6" text-anchor="start" font-family='"Liberation Serif", serif' font-weight="bold" fill="#000" textLength="34.1" lengthAdjust="spacingAndGlyphs">AAV-ova</text>
<!-- panelI -->
<text transform="translate(355.03 206.7) scale(1.7931 1.7536)" x="0" y="0" font-size="10" font-family='"Liberation Sans", sans-serif' font-weight="bold" fill="#000" style="stroke-width:0.15px">I</text>
<rect x="404.35" y="280.55" width="14.5" height="11.3" fill="#fff" stroke="#2a2a2a" stroke-width="0.7"/>
<rect x="419.3" y="238.7" width="13.4" height="53.1" fill="#000" stroke="#000" stroke-width="0.8"/>
<rect x="452.25" y="284.55" width="14.5" height="7.3" fill="#fff" stroke="#2a2a2a" stroke-width="0.7"/>
<rect x="467.2" y="262.2" width="14.1" height="29.6" fill="#000" stroke="#000" stroke-width="0.8"/>
<rect x="481.85" y="290.65" width="13.7" height="1.6" fill="#fff" stroke="#2a2a2a" stroke-width="0.7"/>
<rect x="496" y="273.6" width="13.7" height="18.2" fill="#000" stroke="#000" stroke-width="0.8"/>
<line x1="411.6" y1="275.8" x2="411.6" y2="283.8" stroke="#333" stroke-width="0.8"/>
<line x1="410.2" y1="275.8" x2="413" y2="275.8" stroke="#333" stroke-width="0.8"/>
<line x1="410.2" y1="283.8" x2="413" y2="283.8" stroke="#333" stroke-width="0.8"/>
<line x1="426.3" y1="228.7" x2="426.3" y2="239" stroke="#333" stroke-width="0.8"/>
<line x1="425.2" y1="228.7" x2="427.4" y2="228.7" stroke="#333" stroke-width="0.8"/>
<line x1="459.4" y1="281.8" x2="459.4" y2="286.2" stroke="#333" stroke-width="0.8"/>
<line x1="458" y1="281.8" x2="460.8" y2="281.8" stroke="#333" stroke-width="0.8"/>
<line x1="458" y1="286.2" x2="460.8" y2="286.2" stroke="#333" stroke-width="0.8"/>
<line x1="474.5" y1="251.6" x2="474.5" y2="262" stroke="#333" stroke-width="0.8"/>
<line x1="473.4" y1="251.6" x2="475.6" y2="251.6" stroke="#333" stroke-width="0.8"/>
<line x1="488.6" y1="289.3" x2="488.6" y2="291" stroke="#333" stroke-width="0.8"/>
<line x1="487.5" y1="289.3" x2="489.7" y2="289.3" stroke="#333" stroke-width="0.8"/>
<line x1="502.9" y1="269.3" x2="502.9" y2="274" stroke="#333" stroke-width="0.8"/>
<line x1="501.8" y1="269.3" x2="504" y2="269.3" stroke="#333" stroke-width="0.8"/>
<line x1="400.3" y1="221.8" x2="400.3" y2="292.7" stroke="#000" stroke-width="1.25"/>
<line x1="399.8" y1="292.2" x2="515.7" y2="292.2" stroke="#000" stroke-width="1.25"/>
<line x1="398.8" y1="222.2" x2="400.3" y2="222.2" stroke="#000" stroke-width="0.9"/>
<line x1="398.8" y1="236.2" x2="400.3" y2="236.2" stroke="#000" stroke-width="0.9"/>
<line x1="398.8" y1="250.2" x2="400.3" y2="250.2" stroke="#000" stroke-width="0.9"/>
<line x1="398.8" y1="264.2" x2="400.3" y2="264.2" stroke="#000" stroke-width="0.9"/>
<line x1="398.8" y1="278.2" x2="400.3" y2="278.2" stroke="#000" stroke-width="0.9"/>
<line x1="398.8" y1="292.2" x2="400.3" y2="292.2" stroke="#000" stroke-width="0.9"/>
<line x1="440.5" y1="292.2" x2="440.5" y2="294.2" stroke="#000" stroke-width="0.9"/>
<line x1="515.2" y1="292.2" x2="515.2" y2="294.2" stroke="#000" stroke-width="0.9"/>
<text x="396.8" y="225.38" font-size="8.6" text-anchor="end" font-family='"Liberation Serif", serif' font-weight="bold" fill="#000">20000</text>
<text x="396.8" y="239.38" font-size="8.6" text-anchor="end" font-family='"Liberation Serif", serif' font-weight="bold" fill="#000">16000</text>
<text x="396.8" y="253.38" font-size="8.6" text-anchor="end" font-family='"Liberation Serif", serif' font-weight="bold" fill="#000">12000</text>
<text x="396.8" y="267.38" font-size="8.6" text-anchor="end" font-family='"Liberation Serif", serif' font-weight="bold" fill="#000">8000</text>
<text x="396.8" y="281.38" font-size="8.6" text-anchor="end" font-family='"Liberation Serif", serif' font-weight="bold" fill="#000">4000</text>
<text x="396.8" y="295.38" font-size="8.6" text-anchor="end" font-family='"Liberation Serif", serif' font-weight="bold" fill="#000">0</text>
<text x="371.5" y="254" font-size="8.2" text-anchor="middle" font-family='"Liberation Sans", sans-serif' font-weight="normal" transform="rotate(-90 371.5 254)" textLength="18.7" lengthAdjust="spacingAndGlyphs">CPM</text>
<text x="404.5" y="223.9" font-size="8" text-anchor="start" font-family='"Liberation Serif", serif' font-weight="bold" fill="#000" textLength="45.1" lengthAdjust="spacingAndGlyphs">Day 10 - LN</text>
<rect x="490.55" y="223.15" width="4.8" height="5.7" fill="#fff" stroke="#2a2a2a" stroke-width="0.7"/>
<rect x="490.55" y="236.85" width="4.8" height="5" fill="#000" stroke="#000" stroke-width="0.7"/>
<text x="496.9" y="228.4" font-size="8.6" text-anchor="start" font-family='"Liberation Serif", serif' font-weight="bold" fill="#000" textLength="20.3" lengthAdjust="spacingAndGlyphs">mock</text>
<text x="496.9" y="241.7" font-size="8.6" text-anchor="start" font-family='"Liberation Serif", serif' font-weight="bold" fill="#000" textLength="12.5" lengthAdjust="spacingAndGlyphs">ova</text>
<line x1="474.1" y1="235.4" x2="474.1" y2="240.8" stroke="#000" stroke-width="1.7"/>
<path d="M474.1 246.9 L470.5 239.8 L477.7 239.8 Z" fill="#000"/>
<text x="406.8" y="304.6" font-size="8.6" text-anchor="start" font-family='"Liberation Serif", serif' font-weight="bold" fill="#000" textLength="25.8" lengthAdjust="spacingAndGlyphs">control</text>
<text x="456.6" y="304.6" font-size="8.6" text-anchor="start" font-family='"Liberation Serif", serif' font-weight="bold" fill="#000" textLength="18.9" lengthAdjust="spacingAndGlyphs">D-LN</text>
<text x="487.4" y="304.6" font-size="8.6" text-anchor="start" font-family='"Liberation Serif", serif' font-weight="bold" fill="#000" textLength="25.3" lengthAdjust="spacingAndGlyphs">ND-LN</text>
<text x="468.1" y="314.6" font-size="8.6" text-anchor="start" font-family='"Liberation Serif", serif' font-weight="bold" fill="#000" textLength="33.6" lengthAdjust="spacingAndGlyphs">AAV-ova</text>
</g>
</svg>
</body>
</html>
